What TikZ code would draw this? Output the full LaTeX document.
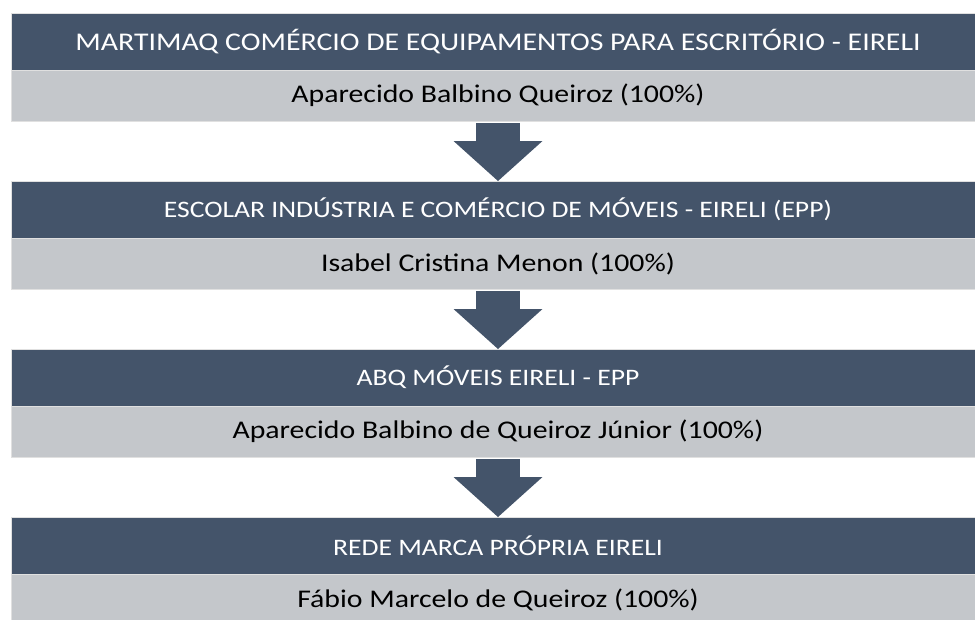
\documentclass[tikz,border=0pt]{standalone}
\usepackage{fontspec}
\setmainfont{Carlito}[FakeStretch=1.17]
\usetikzlibrary{positioning, arrows.meta}
\definecolor{barblue}{HTML}{44546A}
\definecolor{bargray}{HTML}{C4C7CB}

\begin{document}
\begin{tikzpicture}[x=0.75pt, y=-0.75pt,
        company/.style={rectangle, fill=barblue, draw=black!12, line width=0.75pt, text=white, inner sep=0pt, outer sep=0pt, minimum width=730.5pt, minimum height=42.75pt, font=\fontsize{17.7}{20}\selectfont},
        owner/.style={rectangle, fill=bargray, draw=black!12, line width=0.75pt, text=black, inner sep=0pt, outer sep=0pt, minimum width=730.5pt, minimum height=38.25pt, font=\fontsize{19.1}{22}\selectfont},
        flow/.style={draw=barblue, line width=33pt, -{Triangle[width=66.75pt, length=30pt, line width=0pt]}}]
            \fill[white] (0, 0) rectangle (975, 619);
            \useasboundingbox (0, 0) rectangle (975, 619);

            \node[company, anchor=north west, font=\fontsize{19.1}{22}\selectfont] (martimaq) at (11, 13) {MARTIMAQ COMÉRCIO DE EQUIPAMENTOS PARA ESCRITÓRIO - EIRELI};
            \node[owner, below=0pt of martimaq] (aparecido) {Aparecido Balbino Queiroz (100\%)};
            \node[company, below=45pt of aparecido] (escolar) {ESCOLAR INDÚSTRIA E COMÉRCIO DE MÓVEIS - EIRELI (EPP)};
            \node[owner, below=0pt of escolar] (isabel) {Isabel Cristina Menon (100\%)};
            \node[company, below=45pt of isabel] (abq) {ABQ MÓVEIS EIRELI - EPP};
            \node[owner, below=0pt of abq] (junior) {Aparecido Balbino de Queiroz Júnior (100\%)};
            \node[company, below=45pt of junior] (rede) {REDE MARCA PRÓPRIA EIRELI};
            \node[owner, below=0pt of rede] (fabio) {Fábio Marcelo de Queiroz (100\%)};

            \draw[flow] ([yshift=-1.5pt]aparecido.south) -- (escolar.north);
            \draw[flow] ([yshift=-1.5pt]isabel.south) -- (abq.north);
            \draw[flow] ([yshift=-1.5pt]junior.south) -- (rede.north);
        \end{tikzpicture}
\end{document}
